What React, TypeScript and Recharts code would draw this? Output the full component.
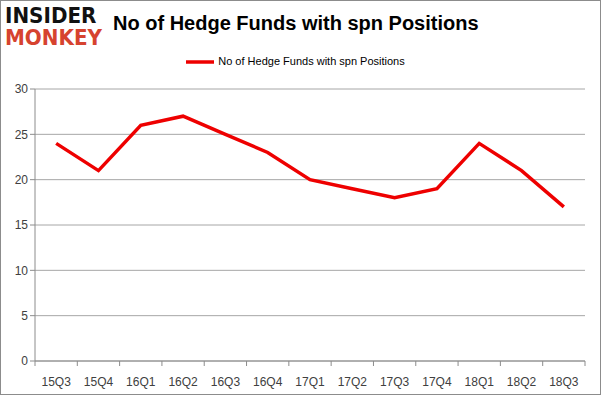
import React from "react";
import { LineChart, Line, XAxis, YAxis, CartesianGrid, Legend } from "recharts";

const categories = ["15Q3","15Q4","16Q1","16Q2","16Q3","16Q4","17Q1","17Q2","17Q3","17Q4","18Q1","18Q2","18Q3"];
const hedgeFunds = [24, 21, 26, 27, 25, 23, 20, 19, 18, 19, 24, 21, 17];
const yTicks = [0, 5, 10, 15, 20, 25, 30];
const seriesName = "No of Hedge Funds with spn Positions";

const data = categories.map((c, i) => ({ i, label: c, value: hedgeFunds[i] }));
const centerTicks = categories.map((_, i) => i);
const boundaryTicks = [...categories.map((_, i) => i - 0.5), categories.length - 0.5];

const font = "'Liberation Sans', Arial, sans-serif";

export default function App() {
  return (
    <div style={{ position: "absolute", left: 0, top: 0, width: 601, height: 395, background: "#fff", fontFamily: font }}>
      <div style={{ position: "absolute", left: 0, top: 0, width: 599, height: 393, border: "1px solid #8c8c8c" }} />
      <div style={{ position: "absolute", left: 5, top: 5, fontFamily: "'DejaVu Sans', sans-serif", fontWeight: 900, lineHeight: "22px", letterSpacing: 0 }}>
        <div style={{ fontSize: 21, color: "#111", transform: "scaleX(0.95)", transformOrigin: "left" }}>INSIDER</div>
        <div style={{ fontSize: 21, color: "#d6432f", transform: "scaleX(0.95)", transformOrigin: "left" }}>MONKEY</div>
      </div>
      <div style={{ position: "absolute", left: 113, top: 12, fontSize: 20, fontWeight: "bold", color: "#000", whiteSpace: "nowrap" }}>
        {seriesName}
      </div>
      <LineChart width={601} height={395} data={data} margin={{ top: 61, right: 16, bottom: 32, left: 0 }}>
        <CartesianGrid vertical={false} stroke="#a6a6a6" strokeWidth={1} />
        <XAxis
          xAxisId="labels"
          type="number"
          dataKey="i"
          domain={[-0.5, categories.length - 0.5]}
          ticks={centerTicks}
          tickFormatter={(v: number) => categories[v] ?? ""}
          tickLine={false}
          axisLine={false}
          interval={0}
          height={1}
          tick={{ fontSize: 12, fill: "#404040", fontFamily: font }}
          tickMargin={9}
        />
        <XAxis
          xAxisId="bounds"
          type="number"
          dataKey="i"
          domain={[-0.5, categories.length - 0.5]}
          ticks={boundaryTicks}
          tickFormatter={() => ""}
          tickLine={{ stroke: "#8c8c8c" }}
          axisLine={{ stroke: "#8c8c8c" }}
          tickSize={5}
          interval={0}
          height={1}
        />
        <YAxis
          domain={[0, 30]}
          ticks={yTicks}
          width={35}
          tickLine={{ stroke: "#8c8c8c" }}
          axisLine={{ stroke: "#8c8c8c" }}
          tickSize={5}
          tick={{ fontSize: 12, fill: "#404040", fontFamily: font }}
          interval={0}
        />
        <Legend
          verticalAlign="top"
          align="center"
          iconType="plainline"
          iconSize={28}
          wrapperStyle={{ top: 48, left: 0, width: 601, fontSize: 11, fontFamily: font, color: "#000" }}
          formatter={(v: string) => <span style={{ color: "#000" }}>{v}</span>}
        />
        <Line
          xAxisId="labels"
          type="linear"
          dataKey="value"
          name={seriesName}
          stroke="#ee0000"
          strokeWidth={3.5}
          dot={false}
          activeDot={false}
          isAnimationActive={false}
        />
      </LineChart>
    </div>
  );
}
